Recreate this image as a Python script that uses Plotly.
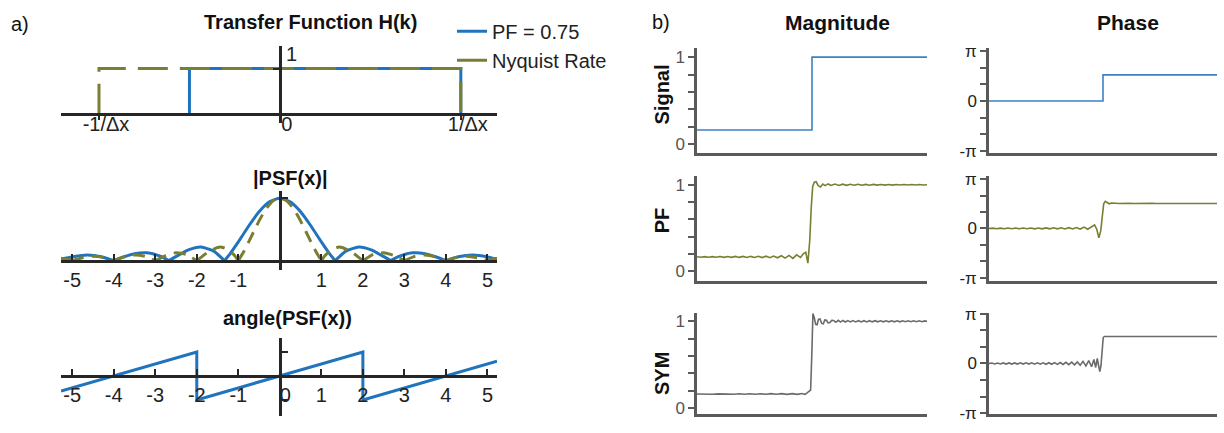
import plotly.graph_objects as go

W, H = 1224, 433
FONT = "Liberation Sans, Arial, sans-serif"
BLUE = "#1f74bd"
OLIVE = "#7a7e30"
GRAY = "#6b6b6b"
SIGBLUE = "#3d80c4"
AX = "#262626"
AXB = "#5a5a5a"

# ---------------- panel a data ----------------
hk_pf_x = [-0.5, -0.5, 1.0, 1.0]
hk_pf_y = [0.0, 1.0, 1.0, 0.0]
hk_ny_x = [-1.0, -1.0, 1.0, 1.0]
hk_ny_y = [0.0, 1.0, 1.0, 0.0]
hk_ticks = [-1, 0, 1]
hk_ticktext = ["-1/Δx", "0", "1/Δx"]

# |PSF| blue (PF = 0.75), lobes separated by None
psf_pf_x = [-5.27, -5.0, -4.65, -4.3, -4.0, None,
            -4.0, -3.75, -3.5, -3.2, -2.9, -2.667, None,
            -2.667, -2.45, -2.2, -1.9, -1.6, -1.333, None,
            -1.333, -1.2, -1.0, -0.75, -0.5, -0.25, 0.0, 0.25, 0.5, 0.75, 1.0, 1.2, 1.333, None,
            1.333, 1.6, 1.9, 2.2, 2.45, 2.667, None,
            2.667, 2.9, 3.2, 3.5, 3.75, 4.0, None,
            4.0, 4.3, 4.65, 5.0, 5.23]
psf_pf_y = [0.025, 0.060, 0.091, 0.064, 0.0, None,
            0.0, 0.063, 0.112, 0.126, 0.077, 0.0, None,
            0.0, 0.084, 0.172, 0.217, 0.156, 0.0, None,
            0.0, 0.109, 0.300, 0.555, 0.784, 0.943, 1.0, 0.943, 0.784, 0.555, 0.300, 0.109, 0.0, None,
            0.0, 0.156, 0.217, 0.172, 0.084, 0.0, None,
            0.0, 0.077, 0.126, 0.112, 0.063, 0.0, None,
            0.0, 0.064, 0.091, 0.060, 0.020]
# |PSF| olive (Nyquist rate)
psf_ny_x = [-5.27, -5.1, -5.0, None,
            -5.0, -4.75, -4.5, -4.25, -4.0, None,
            -4.0, -3.75, -3.5, -3.25, -3.0, None,
            -3.0, -2.75, -2.5, -2.25, -2.0, None,
            -2.0, -1.9, -1.75, -1.5, -1.4, -1.25, -1.1, -1.0, None,
            -1.0, -0.875, -0.75, -0.625, -0.5, -0.375, -0.25, -0.125, 0.0,
            0.125, 0.25, 0.375, 0.5, 0.625, 0.75, 0.875, 1.0, None,
            1.0, 1.1, 1.25, 1.4, 1.5, 1.75, 1.9, 2.0, None,
            2.0, 2.25, 2.5, 2.75, 3.0, None,
            3.0, 3.25, 3.5, 3.75, 4.0, None,
            4.0, 4.25, 4.5, 4.75, 5.0, None,
            5.0, 5.1, 5.23]
psf_ny_y = [0.040, 0.019, 0.0, None,
            0.0, 0.047, 0.071, 0.053, 0.0, None,
            0.0, 0.060, 0.091, 0.069, 0.0, None,
            0.0, 0.082, 0.127, 0.100, 0.0, None,
            0.0, 0.052, 0.129, 0.212, 0.216, 0.180, 0.089, 0.0, None,
            0.0, 0.139, 0.300, 0.471, 0.637, 0.784, 0.900, 0.975, 1.0,
            0.975, 0.900, 0.784, 0.637, 0.471, 0.300, 0.139, 0.0, None,
            0.0, 0.089, 0.180, 0.216, 0.212, 0.129, 0.052, 0.0, None,
            0.0, 0.100, 0.127, 0.082, 0.0, None,
            0.0, 0.069, 0.091, 0.060, 0.0, None,
            0.0, 0.053, 0.071, 0.047, 0.0, None,
            0.0, 0.019, 0.040]
psf_ticks = [-5, -4, -3, -2, -1, 0, 1, 2, 3, 4, 5]
psf_ticktext = ["-5", "-4", "-3", "-2", "-1", "", "1", "2", "3", "4", "5"]

# angle(PSF), in units of pi
ang_x = [-5.27, -2.0, -2.0, 2.0, 2.0, 5.23]
ang_y = [-0.63, 1.0, -1.0, 1.0, -1.0, 0.61]
ang_ticktext = ["-5", "-4", "-3", "-2", "-1", "\u00a0\u00a00", "1", "2", "3", "4", "5"]

# ---------------- panel b data ----------------
sig_x = [0.0, 0.5, 0.5, 1.0]
sig_mag = [0.165, 0.165, 1.0, 1.0]
sig_ph = [0.0, 0.0, 0.52, 0.52]

pf_x = [0.000, 0.017, 0.033, 0.050, 0.067, 0.083, 0.100, 0.117, 0.133, 0.150,
        0.167, 0.183, 0.200, 0.217, 0.233, 0.250, 0.267, 0.283, 0.300, 0.317,
        0.333, 0.350, 0.367, 0.383, 0.400, 0.417, 0.433, 0.450, 0.463, 0.473,
        0.482, 0.490, 0.497, 0.503, 0.510, 0.518, 0.527, 0.537, 0.547, 0.557,
        0.570, 0.583, 0.600, 0.617, 0.633, 0.650, 0.667, 0.683, 0.700, 0.717,
        0.733, 0.750, 0.767, 0.783, 0.800, 0.817, 0.833, 0.850, 0.867, 0.883,
        0.900, 0.917, 0.933, 0.950, 0.967, 0.983, 1.000]
pf_mag = [0.168, 0.162, 0.170, 0.163, 0.170, 0.162, 0.171, 0.162, 0.171, 0.161,
          0.172, 0.161, 0.172, 0.160, 0.173, 0.160, 0.174, 0.159, 0.175, 0.158,
          0.177, 0.156, 0.180, 0.153, 0.184, 0.150, 0.190, 0.160, 0.205, 0.220,
          0.095, 0.350, 0.750, 0.980, 1.030, 1.035, 0.990, 0.975, 1.008, 0.990,
          1.010, 0.992, 1.008, 0.993, 1.007, 0.994, 1.006, 0.995, 1.006, 0.995,
          1.005, 0.995, 1.005, 0.996, 1.004, 0.996, 1.004, 0.996, 1.004, 0.997,
          1.003, 0.997, 1.003, 0.997, 1.003, 0.997, 1.000]
pf_ph = [0.000, 0.008, -0.005, 0.008, -0.005, 0.009, -0.006, 0.009, -0.006, 0.010,
         -0.006, 0.010, -0.007, 0.011, -0.007, 0.012, -0.008, 0.013, -0.008, 0.014,
         -0.009, 0.016, -0.010, 0.020, -0.012, 0.028, -0.015, 0.045, 0.075, -0.020,
         -0.190, -0.050, 0.300, 0.500, 0.550, 0.530, 0.500, 0.515, 0.505, 0.510,
         0.505, 0.510, 0.505, 0.510, 0.505, 0.508, 0.505, 0.508, 0.505, 0.508,
         0.505, 0.507, 0.505, 0.507, 0.505, 0.507, 0.505, 0.507, 0.505, 0.507,
         0.505, 0.507, 0.505, 0.507, 0.505, 0.507, 0.506]

sym_mag_x = [0.000, 0.023, 0.046, 0.069, 0.092, 0.115, 0.138, 0.161, 0.184, 0.207,
             0.230, 0.253, 0.276, 0.299, 0.322, 0.345, 0.368, 0.391, 0.414, 0.437,
             0.455, 0.470, 0.480, 0.488, 0.494, 0.499, 0.504, 0.510, 0.516, 0.522,
             0.528, 0.535, 0.542, 0.549, 0.556, 0.563, 0.570, 0.578, 0.586, 0.594,
             0.604, 0.614, 0.624, 0.634, 0.645, 0.656, 0.667, 0.678, 0.690, 0.702,
             0.714, 0.726, 0.738, 0.750, 0.762, 0.774, 0.786, 0.798, 0.810, 0.822,
             0.834, 0.846, 0.858, 0.870, 0.882, 0.894, 0.906, 0.918, 0.930, 0.942,
             0.954, 0.966, 0.978, 0.990, 1.000]
sym_mag = [0.165, 0.162, 0.166, 0.162, 0.166, 0.162, 0.166, 0.162, 0.167, 0.162,
           0.167, 0.161, 0.167, 0.161, 0.168, 0.161, 0.168, 0.160, 0.169, 0.160,
           0.170, 0.160, 0.180, 0.200, 0.210, 0.600, 1.088, 1.040, 0.965, 0.960,
           1.020, 1.025, 0.975, 0.970, 1.015, 1.012, 0.982, 0.985, 1.010, 1.008,
           0.988, 1.010, 0.990, 1.009, 0.991, 1.008, 0.992, 1.008, 0.992, 1.007,
           0.993, 1.007, 0.993, 1.007, 0.993, 1.006, 0.994, 1.006, 0.994, 1.006,
           0.994, 1.006, 0.994, 1.006, 0.994, 1.005, 0.995, 1.005, 0.995, 1.005,
           0.995, 1.005, 0.995, 1.004, 0.998]

sym_ph_x = [0.0000, 0.0125, 0.0250, 0.0375, 0.0500, 0.0625, 0.0750, 0.0875, 0.1000, 0.1125,
            0.1250, 0.1375, 0.1500, 0.1625, 0.1750, 0.1875, 0.2000, 0.2125, 0.2250, 0.2375,
            0.2500, 0.2625, 0.2750, 0.2875, 0.3000, 0.3125, 0.3250, 0.3375, 0.3500, 0.3625,
            0.3750, 0.3875, 0.4000, 0.4125, 0.4250, 0.4375, 0.4500, 0.4600, 0.4680, 0.4750,
            0.4810, 0.4860, 0.4910, 0.4960, 0.5010, 0.5060, 0.5120, 0.5200, 0.5400, 0.6000,
            0.7000, 0.8000, 0.9000, 1.0000]
sym_ph = [0.000, 0.010, -0.010, 0.010, -0.010, 0.010, -0.011, 0.011, -0.011, 0.011,
          -0.011, 0.012, -0.012, 0.012, -0.012, 0.013, -0.013, 0.013, -0.014, 0.014,
          -0.015, 0.015, -0.016, 0.017, -0.018, 0.019, -0.020, 0.022, -0.024, 0.026,
          -0.028, 0.032, -0.036, 0.042, -0.048, 0.056, -0.066, 0.080, -0.080, 0.100,
          -0.050, -0.160, -0.050, 0.300, 0.520, 0.540, 0.535, 0.540, 0.540, 0.540,
          0.540, 0.540, 0.540, 0.540]

mag_ticks = [0, 0.2, 0.4, 0.6, 0.8, 1.0]
mag_ticktext = ["0", "", "", "", "", "1"]
ph_ticks = [-1.0, -0.6667, -0.3333, 0.0, 0.3333, 0.6667, 1.0]
ph_ticktext = ["-π", "", "", "0", "", "", "π"]


def fx(px):
    return px / W


def fy(py):
    return 1 - py / H


fig = go.Figure()

# panel a traces
fig.add_trace(go.Scatter(x=hk_pf_x, y=hk_pf_y, mode="lines", xaxis="x", yaxis="y",
                         line=dict(color=BLUE, width=3), showlegend=False))
fig.add_trace(go.Scatter(x=hk_ny_x, y=hk_ny_y, mode="lines", xaxis="x", yaxis="y",
                         line=dict(color=OLIVE, width=3, dash="30px,12px"), showlegend=False))
fig.add_trace(go.Scatter(x=psf_pf_x, y=psf_pf_y, mode="lines", xaxis="x2", yaxis="y2",
                         line=dict(color=BLUE, width=3, shape="spline", smoothing=0.6),
                         connectgaps=False, showlegend=False))
fig.add_trace(go.Scatter(x=psf_ny_x, y=psf_ny_y, mode="lines", xaxis="x2", yaxis="y2",
                         line=dict(color=OLIVE, width=3, dash="12px,8px", shape="spline", smoothing=0.6),
                         connectgaps=False, showlegend=False))
fig.add_trace(go.Scatter(x=ang_x, y=ang_y, mode="lines", xaxis="x3", yaxis="y3",
                         line=dict(color=BLUE, width=3), showlegend=False))
# legend entries
fig.add_trace(go.Scatter(x=[None], y=[None], mode="lines", name="PF = 0.75",
                         line=dict(color=BLUE, width=3), xaxis="x", yaxis="y"))
fig.add_trace(go.Scatter(x=[None], y=[None], mode="lines", name="Nyquist Rate",
                         line=dict(color=OLIVE, width=3), xaxis="x", yaxis="y"))

# panel b traces
bt = [
    ("x4", "y4", sig_x, sig_mag, SIGBLUE),
    ("x5", "y5", sig_x, sig_ph, SIGBLUE),
    ("x6", "y6", pf_x, pf_mag, OLIVE),
    ("x7", "y7", pf_x, pf_ph, OLIVE),
    ("x8", "y8", sym_mag_x, sym_mag, GRAY),
    ("x9", "y9", sym_ph_x, sym_ph, GRAY),
]
for xa, ya, xs, ys, c in bt:
    fig.add_trace(go.Scatter(x=xs, y=ys, mode="lines", xaxis=xa, yaxis=ya,
                             line=dict(color=c, width=1.6), showlegend=False))

tf = dict(family=FONT, size=20, color="#222222")
lay = {}
xdom_a = [fx(61), fx(497)]
lay["xaxis"] = dict(domain=xdom_a, range=[-1.21, 1.2], anchor="free", position=fy(110),
                    showline=True, linewidth=3, linecolor=AX, ticks="outside", ticklen=4,
                    tickwidth=2, tickcolor=AX, tickvals=hk_ticks, ticktext=hk_ticktext,
                    tickfont=tf, showgrid=False, zeroline=False, ticklabelstandoff=-13,
                    ticklabelshift=7)
lay["yaxis"] = dict(domain=[fy(120), fy(40)], range=[-0.213, 1.49], anchor="free",
                    position=fx(280), side="right", showline=True, linewidth=3, linecolor=AX,
                    ticks="inside", ticklen=6, tickwidth=2, tickcolor=AX, tickvals=[1],
                    ticktext=["1"], ticklabelposition="outside top", tickfont=tf,
                    showgrid=False, zeroline=False)
lay["xaxis2"] = dict(domain=xdom_a, range=[-5.27, 5.23], anchor="free", position=fy(263),
                     showline=True, linewidth=3, linecolor=AX, ticks="inside", ticklen=6,
                     tickwidth=2, tickcolor=AX, tickvals=psf_ticks, ticktext=psf_ticktext,
                     tickfont=tf, showgrid=False, zeroline=False)
lay["yaxis2"] = dict(domain=[fy(273), fy(190)], range=[-0.154, 1.123], anchor="free",
                     position=fx(280), showline=True, linewidth=3, linecolor=AX,
                     ticks="inside", ticklen=6, tickwidth=2, tickcolor=AX, tickvals=[1],
                     showticklabels=False, showgrid=False, zeroline=False)
lay["xaxis3"] = dict(domain=xdom_a, range=[-5.27, 5.23], anchor="free", position=fy(383),
                     showline=True, linewidth=3, linecolor=AX, ticks="inside", ticklen=6,
                     tickwidth=2, tickcolor=AX, tickvals=psf_ticks, ticktext=ang_ticktext,
                     tickfont=tf, showgrid=False, zeroline=False)
lay["yaxis3"] = dict(domain=[fy(425), fy(343)], range=[-1.68, 1.6], anchor="free",
                     position=fx(280), showline=True, linewidth=3, linecolor=AX,
                     ticks="inside", ticklen=6, tickwidth=2, tickcolor=AX, tickvals=[-1, 1],
                     showticklabels=False, showgrid=False, zeroline=False)

rows = [(151, 42), (284, 175), (423, 317)]
magx = [697, 927]
phx = [989, 1217]
mag_ranges = [[-0.1, 1.1], [-0.11, 1.1], [-0.07, 1.1]]
ph_ranges = [[-1.04, 1.05], [-1.06, 1.06], [-1.02, 1.02]]
n = 4
for i, (yb, yt) in enumerate(rows):
    for col, (xd, rng, tv, tt, fc) in enumerate([
            (magx, mag_ranges[i], mag_ticks, mag_ticktext, "#555555"),
            (phx, ph_ranges[i], ph_ticks, ph_ticktext, "#222222")]):
        k = n + 2 * i + col
        lay[f"xaxis{k}"] = dict(domain=[fx(xd[0]), fx(xd[1])], range=[0, 1], anchor=f"y{k}",
                                showline=True, linewidth=2.5, linecolor=AXB, ticks="",
                                showticklabels=False, showgrid=False, zeroline=False)
        lay[f"yaxis{k}"] = dict(domain=[fy(yb), fy(yt)], range=rng, anchor=f"x{k}",
                                showline=True, linewidth=2.5, linecolor=AXB, ticks="outside",
                                ticklen=6, tickwidth=2, tickcolor=AXB, tickvals=tv, ticktext=tt,
                                tickfont=dict(family=FONT, size=17, color=fc),
                                showgrid=False, zeroline=False)

ann = []


def A(text, x, y, size=20, bold=False, angle=0, color="#111111"):
    ann.append(dict(text=f"<b>{text}</b>" if bold else text, x=fx(x), y=fy(y),
                    xref="paper", yref="paper", showarrow=False, textangle=angle,
                    xanchor="center", yanchor="middle",
                    font=dict(family=FONT, size=size, color=color)))


A("a)", 20, 17)
A("Transfer Function H(k)", 310, 15, bold=True)
A("|PSF(x)|", 290, 177, bold=True)
A("angle(PSF(x))", 287, 323, bold=True)
A("b)", 661, 15)
A("Magnitude", 837, 15, size=21, bold=True)
A("Phase", 1128, 15, size=21, bold=True)
A("Signal", 662, 90, bold=True, angle=-90)
A("PF", 662, 221, bold=True, angle=-90)
A("SYM", 662, 381, bold=True, angle=-90)

fig.update_layout(width=W, height=H, margin=dict(l=0, r=0, t=0, b=0),
                  paper_bgcolor="white", plot_bgcolor="white",
                  font=dict(family=FONT, size=20, color="#222222"),
                  annotations=ann,
                  legend=dict(x=fx(452), y=fy(4), xanchor="left", yanchor="top",
                              bgcolor="rgba(0,0,0,0)", font=dict(family=FONT, size=20, color="#222222"),
                              tracegroupgap=0, itemwidth=30),
                  **lay)

fig.write_html("out.html")
